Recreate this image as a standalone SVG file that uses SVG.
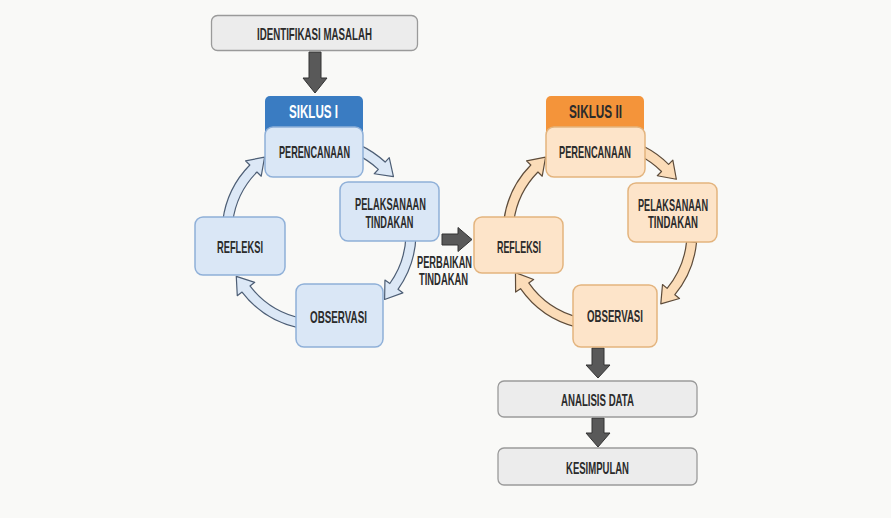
<svg xmlns="http://www.w3.org/2000/svg" width="891" height="518" viewBox="0 0 891 518">
<style>
.lbl{font-family:"Liberation Sans Narrow","Liberation Sans",Arial,sans-serif;font-weight:700;font-size:17px;fill:#2b2b2b;text-anchor:middle}
.two{font-size:16px}
.hdr{font-size:19px}
.gray{fill:#ececec;stroke:#9a9a9a;stroke-width:1.3}
.blue{fill:#dae7f6;stroke:#8fb0d8;stroke-width:1.5}
.orange{fill:#fde4c9;stroke:#e3b47e;stroke-width:1.5}
.dark{fill:#595959;stroke:#333;stroke-width:1}
.barB{fill:#dce8f6;stroke:#4d5e75;stroke-width:1.2;stroke-linejoin:round}
.barO{fill:#fbdcb8;stroke:#5e4c3a;stroke-width:1.2;stroke-linejoin:round}
</style>
<defs>
<path id="a1" d="M92.26,-29.97 A97 97 0 0 1 97,0 L103,0 L92,16 L81,0 L87,0 A87 87 0 0 0 82.74,-26.88 Z"/>
<path id="a2" d="M80.41,-54.24 A97 97 0 0 1 97,0 L103,0 L92,16 L81,0 L87,0 A87 87 0 0 0 72.12,-48.65 Z"/>
<path id="a3" d="M73.21,-63.64 A97 97 0 0 1 97,0 L103,0 L92,16 L81,0 L87,0 A87 87 0 0 0 65.66,-57.08 Z"/>
<path id="a4" d="M77.46,-58.37 A97 97 0 0 1 97,0 L103,0 L92,16 L81,0 L87,0 A87 87 0 0 0 69.48,-52.36 Z"/>
</defs>
<rect width="891" height="518" fill="#f9f9f7"/>

<g id="connectors">
  <g transform="translate(319,233)">
    <use href="#a1" class="barB" transform="rotate(-47)"/>
    <use href="#a2" class="barB" transform="rotate(35.5)"/>
    <use href="#a3" class="barB" transform="rotate(142.5)"/>
    <use href="#a4" class="barB" transform="rotate(224.5)"/>
  </g>
  <g transform="translate(600,233)">
    <use href="#a1" class="barO" transform="rotate(-45)"/>
    <use href="#a2" class="barO" transform="rotate(39.5)"/>
    <use href="#a3" class="barO" transform="rotate(145)"/>
    <use href="#a4" class="barO" transform="rotate(224.5)"/>
  </g>
  <polygon class="dark" points="309,52 321,52 321,78 327,78 315,93 303,78 309,78"/>
  <polygon class="dark" points="442,234 458,234 458,227.5 472,239.5 458,251.5 458,245 442,245"/>
  <polygon class="dark" points="592,348 604,348 604,365 610,365 598,378 586,365 592,365"/>
  <polygon class="dark" points="592,418 604,418 604,433 610,433 598,447 586,433 592,433"/>
</g>

<g id="identifikasi">
  <rect class="gray" x="211.5" y="15.5" width="206" height="35" rx="6"/>
  <text class="lbl" x="314.5" y="40" textLength="115" lengthAdjust="spacingAndGlyphs">IDENTIFIKASI MASALAH</text>
</g>

<g id="siklus1-header">
  <rect x="265" y="96" width="98" height="40" rx="5" fill="#3a7cc2"/>
  <text class="lbl hdr" x="313.5" y="118" style="fill:#ffffff" textLength="49" lengthAdjust="spacingAndGlyphs">SIKLUS I</text>
</g>
<g id="s1-perencanaan">
  <rect class="blue" x="265" y="127" width="98" height="50" rx="8"/>
  <text class="lbl" x="314.5" y="158" textLength="71" lengthAdjust="spacingAndGlyphs">PERENCANAAN</text>
</g>
<g id="s1-pelaksanaan">
  <rect class="blue" x="340" y="182" width="99" height="59" rx="8"/>
  <text class="lbl two" x="390.5" y="209.5" textLength="71" lengthAdjust="spacingAndGlyphs">PELAKSANAAN</text>
  <text class="lbl two" x="389.5" y="227.5" textLength="48" lengthAdjust="spacingAndGlyphs">TINDAKAN</text>
</g>
<g id="s1-observasi">
  <rect class="blue" x="296" y="284" width="87" height="63" rx="8"/>
  <text class="lbl" x="338.5" y="322.5" textLength="57" lengthAdjust="spacingAndGlyphs">OBSERVASI</text>
</g>
<g id="s1-refleksi">
  <rect class="blue" x="195" y="217" width="90" height="58" rx="8"/>
  <text class="lbl" x="240" y="252.5" textLength="46" lengthAdjust="spacingAndGlyphs">REFLEKSI</text>
</g>

<g id="perbaikan-label">
  <text class="lbl two" x="444.5" y="267.5" textLength="55" lengthAdjust="spacingAndGlyphs">PERBAIKAN</text>
  <text class="lbl two" x="443.5" y="285" textLength="49" lengthAdjust="spacingAndGlyphs">TINDAKAN</text>
</g>

<g id="siklus2-header">
  <rect x="546" y="96" width="98" height="40" rx="5" fill="#f4943a"/>
  <text class="lbl hdr" x="595.5" y="118" textLength="53" lengthAdjust="spacingAndGlyphs">SIKLUS II</text>
</g>
<g id="s2-perencanaan">
  <rect class="orange" x="546" y="127" width="99" height="50" rx="8"/>
  <text class="lbl" x="595" y="158" textLength="72" lengthAdjust="spacingAndGlyphs">PERENCANAAN</text>
</g>
<g id="s2-pelaksanaan">
  <rect class="orange" x="628" y="183" width="89" height="59" rx="8"/>
  <text class="lbl two" x="673" y="210.5" textLength="70" lengthAdjust="spacingAndGlyphs">PELAKSANAAN</text>
  <text class="lbl two" x="673" y="228" textLength="50" lengthAdjust="spacingAndGlyphs">TINDAKAN</text>
</g>
<g id="s2-observasi">
  <rect class="orange" x="573" y="285" width="84" height="62" rx="8"/>
  <text class="lbl" x="615" y="322" textLength="56" lengthAdjust="spacingAndGlyphs">OBSERVASI</text>
</g>
<g id="s2-refleksi">
  <rect class="orange" x="474" y="217" width="89" height="56" rx="8"/>
  <text class="lbl" x="519" y="252.5" textLength="44" lengthAdjust="spacingAndGlyphs">REFLEKSI</text>
</g>

<g id="analisis">
  <rect class="gray" x="498" y="381" width="199" height="36" rx="6"/>
  <text class="lbl" x="597.5" y="405.5" textLength="73" lengthAdjust="spacingAndGlyphs">ANALISIS DATA</text>
</g>
<g id="kesimpulan">
  <rect class="gray" x="498" y="448" width="199" height="37" rx="6"/>
  <text class="lbl" x="597.5" y="474" textLength="63" lengthAdjust="spacingAndGlyphs">KESIMPULAN</text>
</g>
</svg>
